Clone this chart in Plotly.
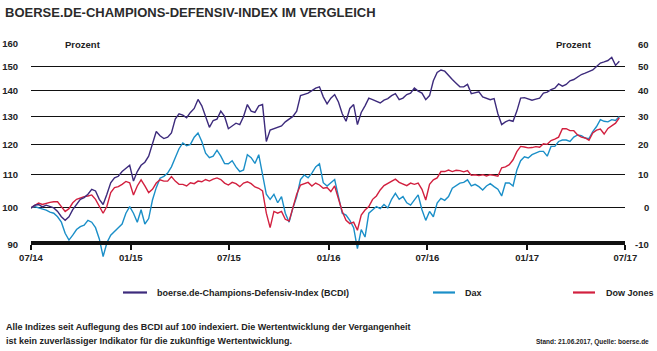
import math
import pandas as pd
import plotly.graph_objects as go

# ---------------- data (weekly readings, indexed to 100) ----------------
start_date = "2014-07-01"
n_weeks = 156
dates = pd.date_range(start_date, periods=n_weeks, freq="7D")

bcdi = [
    100, 100.8, 101, 100.3, 100.8, 100.5, 100, 99, 97.5, 96.5,
    97.5, 99.5, 101, 102.5, 103, 104, 105.5, 105, 102.5, 101,
    104, 107.5, 109, 109.5, 111, 112, 113, 108, 111, 113,
    114, 116, 120, 124.5, 123, 122, 122.5, 124, 129, 131,
    130.5, 129.5, 131.5, 133, 136.5, 134, 130, 126, 128.5, 129,
    132, 130, 125.5, 126.5, 127.5, 127, 130, 134.5, 132, 131.5,
    134, 134.5, 121, 125, 125.5, 126, 126.5, 128, 129, 130,
    132, 138, 138.5, 139, 140, 141, 141.5, 137.5, 134.8, 137,
    138.4, 135.5, 131, 128.2, 133, 134.5, 127, 131.5, 134, 137,
    136.4, 135.8, 135.1, 136.2, 136.8, 138, 138.8, 136.4, 137, 138.4,
    139, 141, 139.8, 139, 136.4, 138, 144, 147.5, 148.5, 148,
    146, 144.5, 143, 141.5, 141.5, 142.5, 138.8, 139, 139.5, 137.5,
    136.8, 136.4, 136.8, 131, 127, 128, 128.6, 128.2, 132, 137,
    137.2, 136.6, 136.2, 136.6, 137, 139, 139.4, 140.4, 141, 142.7,
    141.8, 142.5, 144, 144.5, 145.5, 146.6, 147.2, 148, 148.5, 150,
    151.5, 152, 152.6, 154, 150.5, 152.3,
]

dax = [
    100, 100.4, 100, 99.8, 99.4, 98.8, 98.5, 97.5, 96, 93,
    91.2, 92.5, 94, 94.8, 95.2, 96.5, 96, 94.5, 91.5, 87,
    90.5, 92.5, 93.4, 94.5, 95.5, 98.5, 100.4, 98.5, 96, 99.5,
    95.5, 97, 102.3, 106, 108.9, 109.5, 110.5, 112.5, 115.5, 118.5,
    120.5, 119.5, 120, 122.5, 124, 121, 117, 115.5, 116, 118,
    116, 113.6, 113.5, 114.5, 112.5, 111, 111.5, 116.5, 115.5, 113.6,
    116.5, 110, 104, 102.5, 104, 101.5, 103.3, 98.5, 96, 100,
    103.3, 108.5, 109.9, 109, 110.5, 112.5, 113.5, 107.5, 106.5, 107.5,
    108.5, 103.3, 98.5, 98, 96.5, 94.5, 89, 94, 92, 98.5,
    99.5, 100.4, 99.8, 101, 100, 102.5, 104.3, 102.5, 103.3, 101.5,
    100.8, 102.3, 103.8, 99.5, 96.5, 99, 97.5, 101.4, 102.8, 102.2,
    103.3, 105.8, 106.5, 107.4, 107.6, 108.4, 106.5, 107, 106.3, 105.3,
    106.5, 107.2, 106.3, 105.5, 103.5, 107.4, 107.4, 106.5, 111.5, 114.5,
    115.8, 115.4, 116.5, 117, 117.6, 117.6, 116, 119.3, 119.3, 121,
    121.5, 121.5, 121, 122.5, 123.3, 123, 122.2, 122, 124.5, 126.3,
    128.8, 128.2, 128, 128.8, 128.5, 130,
]

dow = [
    100, 100.8, 101.4, 101, 101.4, 101.6, 101.8, 101.8, 100.4, 99,
    99.8, 101.5, 102.5, 103, 103.3, 103.5, 103.8, 102.5, 100.5, 98.5,
    100.5, 104.5, 106, 106.3, 107, 107.9, 107.5, 103.8, 106.5, 108.4,
    106.5, 104.5, 105.5, 107.4, 108.4, 108, 108, 109.4, 108, 107,
    107, 106.5, 107.5, 107.2, 108, 107.8, 108.5, 108, 108.6, 109,
    108.5, 107.4, 106.8, 107.6, 107.2, 106.3, 107.4, 107.8, 107.2, 106.2,
    105.8, 105, 98.5, 94.5, 99, 98.5, 99, 96.8, 96.3, 100,
    104, 106.8, 107.2, 107.6, 106.5, 107.4, 106.8, 105.8, 106, 104.8,
    106.5, 103, 99, 96.5, 95.6, 96, 93.8, 98, 99.4, 100.4,
    102.5, 103.5, 105.3, 106.6, 107.2, 107.8, 108.6, 107.6, 107, 106.6,
    107.4, 107, 107.4, 105.5, 102.3, 107, 108.4, 109, 111, 111,
    111.5, 111, 111.4, 111.3, 110.9, 111.3, 109.8, 110, 109.7, 110,
    109.6, 110, 109.8, 109.5, 112.2, 112.5, 113.2, 114.8, 117.5, 119.3,
    119.1, 118.8, 118.9, 119.2, 119, 120.2, 120, 121.3, 121.8, 122.5,
    125.5, 125.5, 124.8, 124.8, 123.3, 122.5, 122.2, 121.4, 124, 125,
    125.4, 123.6, 125.6, 126.4, 127.5, 129.5,
]

series_names = ["boerse.de-Champions-Defensiv-Index (BCDI)", "Dax", "Dow Jones"]
series_colors = ["#3d2b7c", "#1b8fc8", "#d2203f"]

left_ticks = [90, 100, 110, 120, 130, 140, 150, 160]
left_ticktext = ["90", "100", "110", "120", "130", "140", "150", "160"]
right_ticktext = ["-10", "0", "10", "20", "30", "40", "50", "60"]

x_tickvals = ["2014-07-01", "2015-01-01", "2015-07-01", "2016-01-01",
              "2016-07-01", "2017-01-01", "2017-07-01"]
x_ticktext = ["07/14", "01/15", "07/15", "01/16", "07/16", "01/17", "07/17"]

title_text = "BOERSE.DE-CHAMPIONS-DEFENSIV-INDEX IM VERGLEICH"
axis_unit = "Prozent"
note_line1 = "Alle Indizes seit Auflegung des BCDI auf 100 indexiert. Die Wertentwicklung der Vergangenheit"
note_line2 = "ist kein zuverlässiger Indikator für die zukünftige Wertentwicklung."
source_text = "Stand: 21.06.2017, Quelle: boerse.de"

# ---------------- layout geometry ----------------
W, H = 657, 351
PL, PR, PT, PB = 31, 652, 44, 262          # paper area in px
PLOT_RIGHT = 625.3                         # right end of the x axis


def fx(px):
    return (px - PL) / (PR - PL)


def fy(py):
    return (PB - py) / (PB - PT)


hi = math.log10(160)
frac90 = (244.7 - PT) / (PB - PT)          # position of 90 line from top
lo = hi - math.log10(160 / 90) / frac90
pos_axis = (PB - 242.7) / (PB - PT)        # thick axis line centred on the 90 line

FONT = "Liberation Sans, Arial, sans-serif"
TXT = "#222222"
tickfont = dict(family=FONT, size=9.5, color=TXT, weight="bold")
textfont = dict(family=FONT, size=9, color=TXT, weight="bold")

fig = go.Figure()
for vals, idx in ((dax, 1), (dow, 2), (bcdi, 0)):
    fig.add_trace(go.Scatter(
        x=dates, y=vals, mode="lines", name=series_names[idx],
        line=dict(color=series_colors[idx], width=1.4),
        showlegend=False,
    ))

fig.update_layout(
    template="none",
    width=W, height=H,
    margin=dict(l=PL, r=W - PR, t=PT, b=H - PB, pad=0, autoexpand=False),
    paper_bgcolor="white", plot_bgcolor="white",
    showlegend=False,
    xaxis=dict(
        type="date", range=["2014-07-01", "2017-07-01"],
        domain=[0, fx(PLOT_RIGHT)],
        anchor="free", position=pos_axis, automargin=False,
        showline=True, linewidth=4, linecolor="#111111",
        ticks="outside", ticklen=5, tickwidth=1.5, tickcolor="#111111",
        tickvals=x_tickvals, ticktext=x_ticktext,
        tickfont=tickfont,
        showgrid=False, zeroline=False,
    ),
    yaxis=dict(
        type="log", range=[lo, hi], automargin=False,
        tickvals=left_ticks, ticktext=left_ticktext,
        tickfont=tickfont,
        showgrid=True, gridcolor="#111111", gridwidth=1,
        showline=False, zeroline=False, ticks="",
        ticklabelstandoff=12,
    ),
)

annotations = []
# right-hand percent scale (same grid, relabelled as change in %)
for v, t in zip(left_ticks, right_ticktext):
    annotations.append(dict(
        text=t, xref="paper", yref="y", x=fx(650.5), y=math.log10(v),
        xanchor="right", yanchor="middle", showarrow=False, font=tickfont,
    ))
# title
annotations.append(dict(
    text="<b>%s</b>" % title_text, xref="paper", yref="paper",
    x=fx(3), y=fy(12), xanchor="left", yanchor="middle", showarrow=False,
    font=dict(family=FONT, size=13, color="#2b2b2b"),
))
# "Prozent" labels on the top grid line
for cx in (82.5, 574):
    annotations.append(dict(
        text=axis_unit, xref="paper", yref="paper",
        x=fx(cx), y=fy(44.3), xanchor="center", yanchor="middle",
        showarrow=False, bgcolor="white", borderpad=9,
        font=tickfont,
    ))
# legend (manual)
legend_line_x = [(123, 147), (433, 455), (573, 595)]
legend_text_x = [155, 463, 604]
shapes = []
for i, name in enumerate(series_names):
    x0, x1 = legend_line_x[i]
    shapes.append(dict(type="line", xref="paper", yref="paper",
                       x0=fx(x0), x1=fx(x1), y0=fy(292.5), y1=fy(292.5),
                       line=dict(color=series_colors[i], width=2.2)))
    annotations.append(dict(
        text=name, xref="paper", yref="paper",
        x=fx(legend_text_x[i]), y=fy(292.5), xanchor="left", yanchor="middle",
        showarrow=False, font=textfont,
    ))
# footnotes
for txt, py in ((note_line1, 326.7), (note_line2, 341.2)):
    annotations.append(dict(
        text=txt, xref="paper", yref="paper",
        x=fx(4), y=fy(py), xanchor="left", yanchor="middle",
        showarrow=False, font=textfont,
    ))
annotations.append(dict(
    text=source_text, xref="paper", yref="paper",
    x=fx(651), y=fy(342), xanchor="right", yanchor="middle",
    showarrow=False, font=dict(family=FONT, size=6.5, color=TXT, weight="bold"),
))

fig.update_layout(annotations=annotations, shapes=shapes)
fig.write_html("out.html")
